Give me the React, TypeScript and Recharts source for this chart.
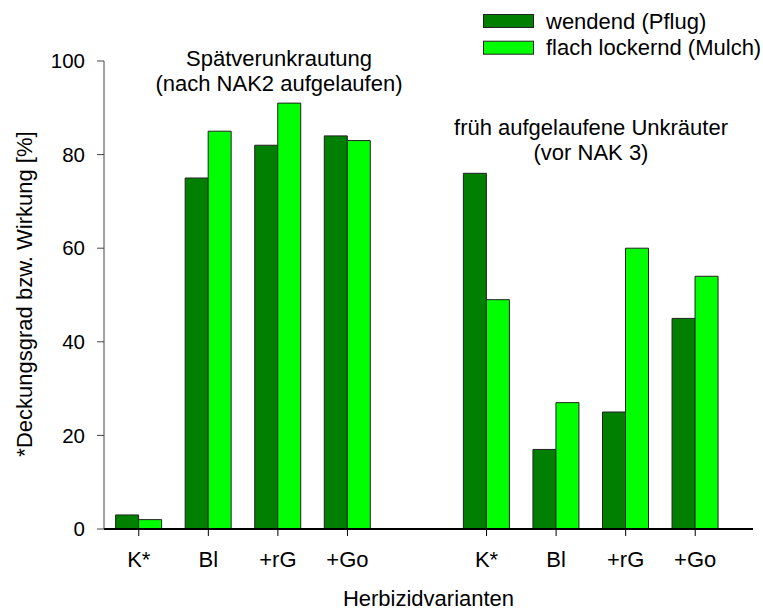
import React from "react";
import { BarChart, Bar, XAxis, YAxis, Customized } from "recharts";

const categories = ["K*", "Bl", "+rG", "+Go", "", "K*", "Bl", "+rG", "+Go"];
const pflug = [3, 75, 82, 84, null, 76, 17, 25, 45];
const mulch = [2, 85, 91, 83, null, 49, 27, 60, 54];
const yTicks = [0, 20, 40, 60, 80, 100];
const seriesNames = ["wendend (Pflug)", "flach lockernd (Mulch)"];
const colors = ["#007F00", "#00FF00"];

const data = categories.map((c, i) => ({
  id: i,
  label: c,
  pflug: pflug[i],
  mulch: mulch[i],
}));

const FONT = "'Liberation Sans', Arial, Helvetica, sans-serif";
const FS = 22;
const X_TICK_SIZE = 7;
const X_TICK_MARGIN = 24;

const XTick = (props: any) => {
  const { x, y, payload } = props;
  const label = categories[payload.value];
  if (!label) return null;
  const axisY = y - X_TICK_SIZE - X_TICK_MARGIN;
  return (
    <g>
      <line x1={x} x2={x} y1={axisY} y2={axisY + X_TICK_SIZE} stroke="#000" strokeWidth={1} />
      <text x={x} y={y - 1} textAnchor="middle" fontFamily={FONT} fontSize={FS} fill="#000" dominantBaseline="central">
        {label}
      </text>
    </g>
  );
};

const LegendAndAnnotations = () => (
  <g fontFamily={FONT} fontSize={FS} fill="#000">
    {seriesNames.map((n, i) => (
      <g key={n}>
        <rect x={483.5} y={14.5 + i * 26.7} width={50} height={13} fill={colors[i]} stroke="#222" strokeWidth={1} />
        <text x={546} y={21 + i * 26.7} dominantBaseline="central">
          {n}
        </text>
      </g>
    ))}
    <g textAnchor="middle">
      <text x={279} y={58} dominantBaseline="central">Spätverunkrautung</text>
      <text x={279} y={83} dominantBaseline="central">(nach NAK2 aufgelaufen)</text>
      <text x={591} y={127} dominantBaseline="central">früh aufgelaufene Unkräuter</text>
      <text x={591} y={152} dominantBaseline="central">(vor NAK 3)</text>
      <text x={428.5} y={598} dominantBaseline="central">Herbizidvarianten</text>
      <text x={24} y={294} dominantBaseline="central" transform="rotate(-90 24 294)">
        *Deckungsgrad bzw. Wirkung [%]
      </text>
    </g>
  </g>
);

export default function App() {
  return (
    <div style={{ position: "absolute", left: 0, top: 0, background: "#fff" }}>
      <BarChart
        width={763}
        height={611}
        data={data}
        margin={{ top: 61, right: 10, left: 0, bottom: 42 }}
        barCategoryGap="16.7%"
        barGap={0}
      >
        <XAxis
          dataKey="id"
          type="category"
          height={40}
          padding={{ left: 0, right: 23 }}
          axisLine={{ stroke: "#000", strokeWidth: 2 }}
          tickLine={false}
          tickSize={X_TICK_SIZE}
          tickMargin={X_TICK_MARGIN}
          tick={<XTick />}
          interval={0}
        />
        <YAxis
          width={104}
          domain={[0, 100]}
          ticks={yTicks}
          axisLine={{ stroke: "#444", strokeWidth: 1 }}
          tickLine={{ stroke: "#444", strokeWidth: 1 }}
          tickSize={7}
          tickMargin={12}
          tick={{ fontFamily: FONT, fontSize: 20.5, fill: "#000" }}
          interval={0}
        />
        <Bar dataKey="pflug" name={seriesNames[0]} fill={colors[0]} stroke="#222" strokeWidth={1} isAnimationActive={false} />
        <Bar dataKey="mulch" name={seriesNames[1]} fill={colors[1]} stroke="#222" strokeWidth={1} isAnimationActive={false} />
        <Customized component={LegendAndAnnotations} />
      </BarChart>
    </div>
  );
}
